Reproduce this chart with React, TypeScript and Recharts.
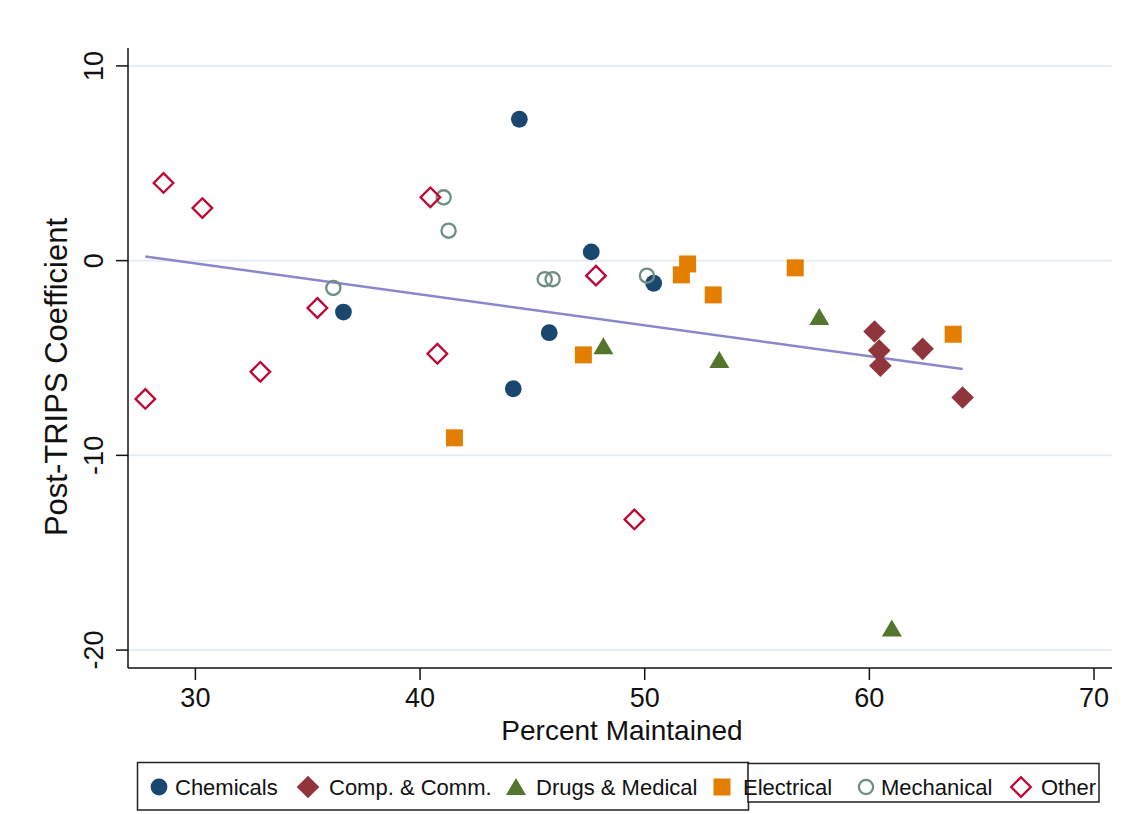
import React from "react";
import { ScatterChart, Scatter, XAxis, YAxis, CartesianGrid } from "recharts";

const FONT = "'Liberation Sans', Arial, Helvetica, sans-serif";

// values (Percent Maintained, Post-TRIPS Coefficient)
const chemicalsX = [44.42, 47.62, 50.4, 45.75, 36.59, 44.15];
const chemicalsY = [7.26, 0.45, -1.16, -3.7, -2.64, -6.58];

const compX = [60.23, 60.44, 60.49, 62.37, 64.15];
const compY = [-3.64, -4.62, -5.4, -4.53, -7.03];

const drugsX = [48.16, 53.32, 57.77, 61.0];
const drugsY = [-4.4, -5.1, -2.89, -18.89];

const electricalX = [41.53, 47.27, 51.91, 51.63, 53.05, 56.7, 63.73];
const electricalY = [-9.1, -4.84, -0.17, -0.73, -1.76, -0.37, -3.78];

const mechanicalX = [41.05, 41.27, 45.55, 45.9, 50.1, 36.14];
const mechanicalY = [3.25, 1.54, -0.95, -0.95, -0.77, -1.4];

const otherX = [28.58, 30.31, 27.77, 32.89, 35.43, 40.46, 40.77, 47.83, 49.54];
const otherY = [3.99, 2.7, -7.1, -5.71, -2.43, 3.25, -4.78, -0.77, -13.29];

const fitX = [27.77, 64.15];
const fitY = [0.21, -5.57];

const xTicks = [30, 40, 50, 60, 70];
const yTicks = [-20, -10, 0, 10];

const zip = (xs: number[], ys: number[]) => xs.map((x, i) => ({ x, y: ys[i] }));

const C = {
  navy: "#1a476f",
  maroon: "#90353b",
  green: "#55752f",
  orange: "#e37e00",
  teal: "#6e8e84",
  red: "#c10534",
  fit: "#8c87cc",
  grid: "#e5eef2",
};

type Mk = (cx: number, cy: number) => React.ReactElement;

const circleMk: Mk = (cx, cy) => <circle cx={cx} cy={cy} r={8.4} fill={C.navy} />;
const diamondMk: Mk = (cx, cy) => (
  <polygon points={`${cx},${cy - 11.3} ${cx + 11.3},${cy} ${cx},${cy + 11.3} ${cx - 11.3},${cy}`} fill={C.maroon} />
);
const triangleMk: Mk = (cx, cy) => (
  <polygon points={`${cx},${cy - 9} ${cx + 10},${cy + 8} ${cx - 10},${cy + 8}`} fill={C.green} />
);
const squareMk: Mk = (cx, cy) => <rect x={cx - 8.5} y={cy - 8.5} width={17} height={17} fill={C.orange} />;
const hollowCircleMk: Mk = (cx, cy) => (
  <circle cx={cx} cy={cy} r={7.1} fill="none" stroke={C.teal} strokeWidth={2.3} />
);
const hollowDiamondMk: Mk = (cx, cy) => (
  <polygon
    points={`${cx},${cy - 9.8} ${cx + 9.8},${cy} ${cx},${cy + 9.8} ${cx - 9.8},${cy}`}
    fill="none"
    stroke={C.red}
    strokeWidth={2.3}
  />
);

const series = [
  { name: "Chemicals", data: zip(chemicalsX, chemicalsY), mk: circleMk, lx: 159, tx: 175 },
  { name: "Comp. & Comm.", data: zip(compX, compY), mk: diamondMk, lx: 308, tx: 329 },
  { name: "Drugs & Medical", data: zip(drugsX, drugsY), mk: triangleMk, lx: 516, tx: 536 },
  { name: "Electrical", data: zip(electricalX, electricalY), mk: squareMk, lx: 722, tx: 743 },
  { name: "Mechanical", data: zip(mechanicalX, mechanicalY), mk: hollowCircleMk, lx: 866, tx: 881 },
  { name: "Other", data: zip(otherX, otherY), mk: hollowDiamondMk, lx: 1021, tx: 1041 },
];

function XTick({ x, y, payload }: any) {
  return (
    <text x={x} y={y} textAnchor="middle" fontSize={27} fontFamily={FONT} fill="#111">
      {payload.value}
    </text>
  );
}

function YTick({ x, y, payload }: any) {
  return (
    <text transform={`translate(${x},${y}) rotate(-90)`} textAnchor="middle" fontSize={27} fontFamily={FONT} fill="#111">
      {payload.value}
    </text>
  );
}

export default function App() {
  return (
    <div style={{ position: "absolute", left: 0, top: 0, width: 1127, height: 814, background: "#fff" }}>
      <ScatterChart width={1127} height={814} margin={{ top: 48, right: 15, bottom: 0, left: 0 }}>
        <CartesianGrid horizontal vertical={false} stroke={C.grid} strokeWidth={2} horizontalValues={yTicks} />
        <XAxis
          type="number"
          dataKey="x"
          domain={[27, 70.8]}
          ticks={xTicks}
          allowDataOverflow
          height={146}
          tickSize={12}
          tickMargin={27}
          stroke="#111"
          strokeWidth={1.5}
          tick={<XTick />}
        />
        <YAxis
          type="number"
          dataKey="y"
          domain={[-20.92, 10.92]}
          ticks={yTicks}
          allowDataOverflow
          width={128}
          tickSize={12}
          tickMargin={13}
          stroke="#111"
          strokeWidth={1.5}
          tick={<YTick />}
        />
        <Scatter
          data={zip(fitX, fitY)}
          line={{ stroke: C.fit, strokeWidth: 2.5 }}
          shape={() => <g />}
          isAnimationActive={false}
        />
        {series.map((s) => (
          <Scatter
            key={s.name}
            name={s.name}
            data={s.data}
            isAnimationActive={false}
            shape={(p: any) => s.mk(p.cx, p.cy)}
          />
        ))}
      </ScatterChart>

      {/* axis titles and legend drawn on top */}
      <svg width={1127} height={814} style={{ position: "absolute", left: 0, top: 0, pointerEvents: "none" }}>
        <text x={622} y={740} textAnchor="middle" fontSize={28} fontFamily={FONT} fill="#111">
          Percent Maintained
        </text>
        <text transform="translate(67,377) rotate(-90)" textAnchor="middle" fontSize={31} fontFamily={FONT} fill="#111">
          Post-TRIPS Coefficient
        </text>

        <rect x={137.5} y={762.5} width={611} height={47.5} fill="#fff" stroke="#222" strokeWidth={1.5} />
        <rect x={748} y={763.5} width={351} height={38.5} fill="#fff" stroke="#222" strokeWidth={1.5} />
        {series.map((s) => (
          <g key={s.name}>
            {s.mk(s.lx, 787)}
            <text x={s.tx} y={795} fontSize={22} fontFamily={FONT} fill="#111">
              {s.name}
            </text>
          </g>
        ))}
      </svg>
    </div>
  );
}
